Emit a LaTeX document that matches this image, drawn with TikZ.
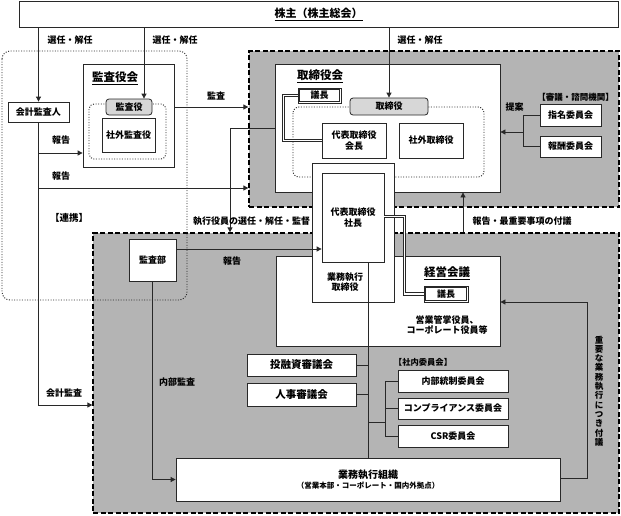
\documentclass[tikz,border=0pt]{standalone}
\usepackage{fontspec}
\setmainfont{Noto Sans CJK JP}
\usetikzlibrary{arrows.meta,calc}
\definecolor{regiongray}{RGB}{180,180,180}
\definecolor{pillgray}{RGB}{215,215,215}
\definecolor{lncol}{RGB}{40,40,40}
\newcommand{\rbox}[7]{\node[#1, minimum width={#5-#3}, minimum height={#6-#4}] (#2) at ({(#3+#5)/2},{(#4+#6)/2}) {#7};}
\newcommand{\innerframe}[1]{\draw[lncol, line width=0.7pt] ($(#1.north west)+(1.8,1.8)$) rectangle ($(#1.south east)+(-1.8,-1.8)$);}
\begin{document}
\begin{tikzpicture}[x=1pt, y=-1pt,
  font=\fontsize{9}{10.5}\selectfont\bfseries,
  box/.style={draw=lncol, line width=0.8pt, fill=white, inner sep=0pt, align=center},
  pill/.style={box, fill=pillgray, rounded corners=3pt},
  dbox/.style={box, line width=0.7pt},
  region/.style={draw=black, fill=regiongray, line width=1.3pt, dash pattern=on 5pt off 2.5pt, inner sep=0pt},
  dotreg/.style={draw=lncol, line width=0.9pt, dash pattern=on 1pt off 1.6pt, rounded corners=8pt},
  conn/.style={draw=lncol, line width=0.8pt},
  arr/.style={conn, -{Triangle[length=5pt,width=5pt]}},
  dline/.style={draw=white, line width=1.6pt, preaction={draw=lncol, line width=3.6pt}},
  lbl/.style={inner sep=0pt, align=center},
  ttl/.style={inner sep=0pt, font=\fontsize{11.5}{13}\selectfont\bfseries}
]
\useasboundingbox (0,0) rectangle (621,515);

% regions
\rbox{region}{board}{249}{51}{619}{207}{}
\rbox{region}{exec}{93}{233}{619}{513}{}
\draw[dotreg] (2,51) rectangle (187,300);

% shareholders
\rbox{box}{sh}{19}{1}{618}{27}{{\fontsize{11}{12}\selectfont\underline{株主（株主総会）}}}

% audit board
\rbox{box}{kaikei}{8}{102}{69}{122}{会計監査人}
\rbox{box}{kyk}{83}{64}{174}{167}{}
\node[ttl] at (115,78) {\underline{監査役会}};
\draw[dotreg, rounded corners=5pt] (89,104) rectangle (166,159);
\rbox{box}{shagaik}{102}{118}{155}{152}{社外監査役}
\rbox{pill}{kansayaku}{106}{99}{152}{115}{監査役}

% board of directors
\rbox{box}{torikai}{275}{64}{500}{192}{}
\node[ttl] at (320,76) {\underline{取締役会}};
\draw[dotreg, rounded corners=6pt] (293,107) rectangle (484,177);
\rbox{dbox}{gichou1}{298}{88}{341}{103}{議長}
\innerframe{gichou1}
\rbox{pill}{tori}{350}{98}{428}{115}{取締役}
\rbox{box}{kaichou}{322}{123}{386}{158}{代表取締役\\会長}
\rbox{box}{shagait}{399}{123}{463}{158}{社外取締役}

% management meeting
\rbox{box}{keiei}{276}{256}{500}{346}{}
\node[ttl] at (447,273) {\underline{経営会議}};
\rbox{dbox}{gichou2}{424}{286}{468}{302}{議長}
\innerframe{gichou2}
\node[lbl] (eigyo) at (447,325) {営業管掌役員、\\コーポレート役員等};

% president column
\rbox{box}{col}{312}{163}{394}{302}{}
\rbox{box}{shachou}{322}{173}{384}{262}{代表取締役\\社長}
\node[lbl] (gyoumutori) at (345,282) {業務執行\\取締役};

% other boxes
\rbox{box}{kansabu}{129}{239}{176}{281}{監査部}
\rbox{box}{toyushi}{247}{354}{356}{376}{{\fontsize{10.5}{12}\selectfont 投融資審議会}}
\rbox{box}{jinji}{247}{383}{356}{406}{{\fontsize{10.5}{12}\selectfont 人事審議会}}
\rbox{box}{naibu}{398}{370}{508}{392}{内部統制委員会}
\rbox{box}{comp}{398}{398}{508}{419}{コンプライアンス委員会}
\rbox{box}{csr}{398}{425}{508}{447}{CSR委員会}
\rbox{box}{gyoumu}{176}{458}{560}{501}{{\fontsize{10}{12}\selectfont 業務執行組織}\\{\fontsize{7.5}{9}\selectfont （営業本部・コーポレート・国内外拠点）}}
\rbox{box}{shimei}{540}{104}{601}{126}{指名委員会}
\rbox{box}{houshu}{540}{136}{601}{157}{報酬委員会}

% coordinates
\coordinate (xa) at (144,0);
\coordinate (ya) at (0,405);
\coordinate (yb) at (0,153);
\coordinate (yc) at (0,188);
\coordinate (yd) at (0,107);
\coordinate (ye) at (230,128);
\coordinate (xf) at (463,0);
\coordinate (yg) at (0,249);
\coordinate (xm) at (368,0);
\coordinate (xb) at (385,0);
\coordinate (yh) at (0,422);
\coordinate (xj) at (587,0);
\coordinate (yj1) at (0,478);
\coordinate (yj2) at (0,302);
\coordinate (xk) at (523,0);
\coordinate (yk) at (0,132);
\coordinate (xl) at (283.5,0);
\coordinate (xn) at (404.5,216.5);

% connectors
\draw[arr] (kaikei.north |- sh.south) -- (kaikei.north);
\draw[arr] (xa |- sh.south) -- (xa |- kansayaku.north);
\draw[arr] (tori.north |- sh.south) -- (tori.north);

\draw[arr] (kaikei.south) |- (ya -| exec.west);
\draw[arr] (kaikei.south |- yb) -- (yb -| kyk.west);
\draw[arr] (kaikei.south |- yc) -- (yc -| board.west);
\draw[arr] (kyk.east |- yd) -- (board.west |- yd);

\draw[arr] (torikai.west |- ye) -- (ye) -- (ye |- exec.north);
\draw[arr] (xf |- exec.north) -- (xf |- torikai.south);
\draw[arr] (kansabu.east |- yg) -- (shachou.west |- yg);
\draw[arr] (kansabu.south) |- (gyoumu.west);

\draw[conn] (xm |- shachou.south) -- (xm |- gyoumu.north);
\draw[conn] (toyushi.east) -- (xm |- toyushi.east);
\draw[conn] (jinji.east) -- (xm |- jinji.east);
\draw[conn] (naibu.west) -| (xb |- csr.west) -- (csr.west);
\draw[conn] (comp.west) -- (xb |- comp.west);
\draw[conn] (xm |- yh) -- (xb |- yh);

\draw[arr] (gyoumu.east |- yj1) -| (xj |- yj2) -- (keiei.east |- yj2);

\draw[conn] (shimei.west) -| (xk |- houshu.west) -- (houshu.west);
\draw[arr] (xk |- yk) -- (torikai.east |- yk);

\draw[dline] (gichou1.west) -| (xl |- kaichou.west) -- (kaichou.west);
\draw[dline] (shachou.east |- xn) -| (xn |- gichou2.west) -- (gichou2.west);

% labels
\node[lbl] at (70,40) {選任・解任};
\node[lbl] at (175,40) {選任・解任};
\node[lbl] at (420,40) {選任・解任};
\node[lbl] at (61,140) {報告};
\node[lbl] at (61,176) {報告};
\node[lbl] at (216,96) {監査};
\node[lbl, font=\fontsize{9.5}{11}\selectfont\bfseries] at (69,218) {【連携】};
\node[lbl] at (251.5,221) {執行役員の選任・解任・監督};
\node[lbl] at (522,221) {報告・最重要事項の付議};
\node[lbl] at (232,261) {報告};
\node[lbl] at (514.5,107) {提案};
\node[lbl] at (177,382) {内部監査};
\node[lbl] at (64,393) {会計監査};
\node[lbl, font=\fontsize{8.3}{10}\selectfont\bfseries] at (423,362) {【社内委員会】};
\node[lbl, font=\fontsize{8.5}{10}\selectfont\bfseries] at (575.5,97) {【審議・諮問機関】};
\node[lbl, font=\fontsize{8.5}{9.3}\selectfont\bfseries] at (599,391) {重\\要\\な\\業\\務\\執\\行\\に\\つ\\き\\付\\議};
\end{tikzpicture}
\end{document}
